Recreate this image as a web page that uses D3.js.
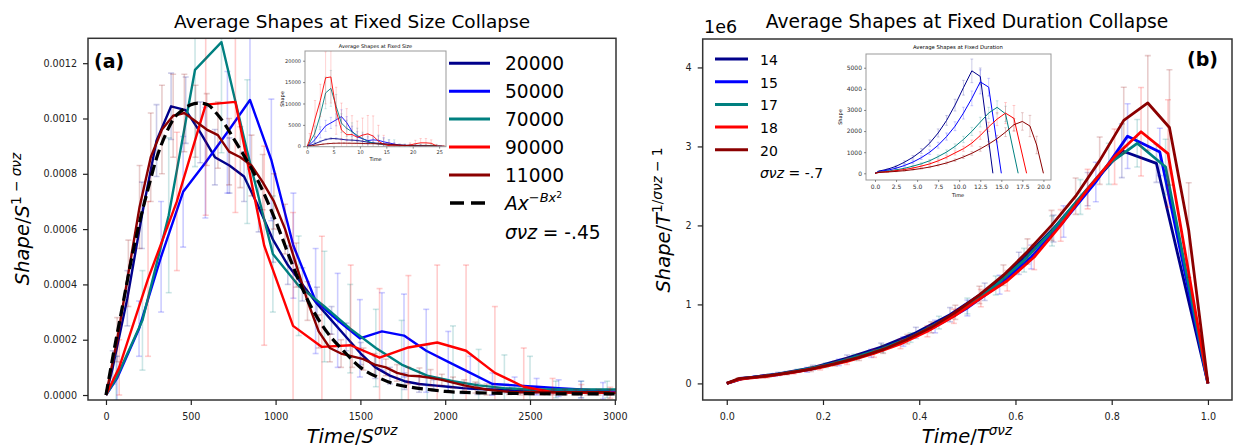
<!DOCTYPE html>
<html>
<head>
<meta charset="utf-8">
<script src="https://cdn.jsdelivr.net/npm/d3@7"></script>
<style>
  body { margin: 0; background: #fff; }
  svg text { font-family: "DejaVu Sans", sans-serif; }
</style>
</head>
<body>
<svg id="chart" width="1235" height="448"></svg>
<script>
// ================= data: fixed-size collapse (panel a) =================
const sizeLabels = ["20000", "50000", "70000", "90000", "11000"];
const seriesColors = ["#00008b", "#0000ff", "#008080", "#ff0000", "#8b0000"];

const s20000X = [0,40,126,212,298,384,470,556,642,728,814,900,986,1072,1158,1244,1330,1416,1502,1588,1674,1760,1846,1932,2018,2104,2190,2276,2362,2448,2534,2620,2706,2792,2878,2964];
const s20000Y = [0,0.0001,0.00035,0.00065,0.00092,0.001044,0.00103,0.00095,0.00086,0.00083,0.00079,0.00068,0.00056,0.00047,0.0004,0.00033,0.00027,0.00021,0.00015,0.0001,0.00007,0.00005,0.00004,0.000035,0.00003,0.000025,0.000022,0.00002,0.000018,0.000016,0.000015,0.000014,0.000013,0.000012,0.000011,0.00001];
const s20000E = [0,0.00006,0.0001,0.00012,0.00013,0.00012,0.00012,0.00011,0.0001,0.0001,0.00009,0.00009,0.00008,0.00007,0.00006,0.00006,0.00005,0.00005,0.00004,0.00004,0.00003,0.00003,0.00003,0.00002,0.00002,0.00002,0.00002,0.00002,0.00001,0.00001,0.00001,0.00001,0.00001,0.00001,0.00001,0.00001];

const s50000X = [0,65,195,325,455,586,716,849,975,1105,1236,1366,1497,1627,1757,1888,2018,2148,2279,2409,2539,2669,2800,2930,3060];
const s50000Y = [0,0.00006,0.00024,0.0005,0.000735,0.00084,0.00095,0.001067,0.00085,0.00054,0.00034,0.00027,0.000205,0.00023,0.000215,0.00016,0.00012,0.00008,0.00004,0.000035,0.00003,0.000025,0.00002,0.000015,0.00001];
const s50000E = [0,0.00008,0.0001,0.0002,0.0002,0.0002,0.00022,0.00025,0.00022,0.00019,0.00019,0.00017,0.00014,0.00014,0.00015,0.00015,0.00011,0.00006,0.00004,0.00003,0.00003,0.00003,0.00003,0.00003,0.00002];

const s70000X = [0,60,215,370,525,681,833,984,1136,1288,1440,1591,1743,1894,2046,2197,2349,2500,2652,2803,2955,3106];
const s70000Y = [0,0.00006,0.00027,0.00065,0.001176,0.001276,0.00088,0.00051,0.000395,0.00032,0.00024,0.00017,0.00011,0.00007,0.00005,0.000035,0.000025,0.00002,0.00002,0.00002,0.00002,0.00002];
const s70000E = [0,0.00008,0.00018,0.00028,0.00035,0.0004,0.00026,0.00021,0.00018,0.0002,0.00016,0.00014,0.00016,0.00011,0.0002,0.00013,0.00012,0.00012,0.00003,0.00003,0.00003,0.00003];

const s90000X = [0,78,248,418,588,763,933,1103,1273,1443,1613,1783,1953,2123,2293,2463,2633,2803,2973,3143];
const s90000Y = [0,0.0001,0.00042,0.0007,0.00105,0.00106,0.00054,0.00025,0.000174,0.00018,0.000135,0.000172,0.00019,0.00016,0.00008,0.00003,0.00001,0.000008,0.000008,0.000008];
const s90000E = [0,0.0001,0.00028,0.00025,0.0004,0.0004,0.00036,0.00041,0.0004,0.00029,0.00025,0.00026,0.00028,0.00031,0.00024,0.00014,0.00005,0.00003,0.00002,0.00002];

const s11000X = [0,66,132,198,264,330,396,462,528,594,660,726,792,858,924,990,1056,1122,1188,1254,1320,1386,1452,1518,1584,1650,1716,1782,1848,1914,1980,2046,2112,2178,2244,2310,2376,2442,2508,2574,2640,2706,2772,2838,2904,2970];
const s11000Y = [0,0.0002,0.00044,0.00068,0.00086,0.00096,0.00101,0.00102,0.00099,0.00096,0.00094,0.00088,0.00086,0.00083,0.00077,0.0007,0.0006,0.00047,0.00034,0.00023,0.00017,0.00015,0.00014,0.00013,0.00011,0.0001,0.00008,0.00007,0.000068,0.000062,0.000055,0.000045,0.000035,0.000027,0.00002,0.000015,0.000012,0.00001,0.00001,0.00001,0.00001,0.00001,0.00001,0.00001,0.00001,0.00001];
const s11000E = [0,0.00008,0.00012,0.00015,0.00016,0.00016,0.00015,0.00014,0.00013,0.00013,0.00012,0.00012,0.00011,0.00011,0.0001,0.0001,0.00009,0.00008,0.00007,0.00006,0.00005,0.00005,0.00004,0.00004,0.00004,0.00003,0.00003,0.00003,0.00003,0.00003,0.00002,0.00002,0.00002,0.00002,0.00002,0.00001,0.00001,0.00001,0.00001,0.00001,0.00001,0.00001,0.00001,0.00001,0.00001,0.00001];

// fitted A x^{-Bx^2} curve
const fitX = [0,50,100,150,200,250,300,350,400,450,500,550,600,650,700,750,800,900,1000,1100,1200,1300,1400,1500,1600,1700,1800,1900,2000,2200,2500,2800,3000];
const fitY = [0,0.00017,0.00033,0.00049,0.00063,0.00075,0.00086,0.00094,0.001,0.00103,0.00105,0.001056,0.00105,0.00102,0.00098,0.00093,0.00088,0.00077,0.00063,0.00047,0.00033,0.00023,0.00016,0.0001,0.000065,0.00004,0.000028,0.00002,0.000013,0.000008,0.000005,0.000004,0.000004];

// raw shapes (inset of panel a)
const raw20000T = [0,0.5,1.5,2.5,3.5,4.5,5.5,6.5,7.5,8.5,9.5,10.5,11.5,12.5,13.5,14.5,15.5,16.5,17.5,18.5,19.5,20.5,21.5,22.5,23.5,24.5,25.5];
const raw20000V = [0,170,600,1120,1580,1800,1770,1630,1480,1430,1360,1170,960,810,690,570,460,360,260,170,120,90,70,60,50,40,35];
const raw20000E = [0,80,150,200,220,220,200,190,180,170,160,150,140,120,100,90,80,70,60,50,40,40,30,30,30,30,30];
const raw50000T = [0,0.5,1.5,2.5,3.5,4.5,5.5,6.5,7.5,8.5,9.5,10.5,11.5,12.5,13.5,14.5,15.5,16.5,17.5,18.5,19.5,20.5,21.5,22.5];
const raw50000V = [0,390,1560,3250,4780,5460,6175,6935,5525,3510,2210,1755,1330,1495,1400,1040,780,520,260,230,195,160,130,100];
const raw50000E = [0,500,700,1300,1300,1300,1400,1600,1400,1200,1200,1100,900,900,1000,1000,700,400,260,200,200,200,200,130];
const raw70000T = [0,0.4,1.4,2.4,3.5,4.5,5.5,6.5,7.5,8.5,9.5,10.5,11.5,12.5,13.5,14.5,15.5,16.5,17.5,18.5,19.5,20.5,21.5,22.5,23.5,24.5];
const raw70000V = [0,640,2860,6900,12470,13530,9330,5400,4190,3390,2540,1800,1170,740,530,370,265,210,210,210,210,210,200,190,180,150];
const raw70000E = [0,850,1900,3000,3700,4200,2800,2200,1900,2100,1700,1500,1700,1200,2100,1400,1300,1300,300,300,300,300,300,300,300,300];
const raw90000T = [0,0.5,1.5,2.5,3.5,4.5,5.5,6.5,7.5,8.5,9.5,10.5,11.5,12.5,13.5,14.5,15.5,16.5,17.5,18.5,19.5,20.5,21.5,22.5,23.5,24.5];
const raw90000V = [0,1500,6400,10700,16000,16200,8300,3800,2700,2750,2100,2600,2900,2400,1200,460,150,120,120,150,300,600,800,800,700,100];
const raw90000E = [0,1500,4300,3800,6100,6100,5500,6300,6100,4400,3800,4000,4300,4700,3700,2100,800,500,300,300,500,800,1000,1000,800,300];
const raw11000T = [0,1,2,3,4,5,6,7,8,9,10,11,12,13,14,15,16,17,18,19,20,21,22,23,24,25,26];
const raw11000V = [0,144,317,490,620,690,727,734,713,691,677,634,619,598,554,504,432,338,245,166,122,108,101,94,79,72,58];
const raw11000E = [0,58,86,108,115,115,108,100,94,94,86,86,79,79,72,72,65,58,50,43,36,36,29,29,29,22,22];

// ================= data: fixed-duration collapse (panel b), values in units of 1e6 =================
const durLabels = ["14", "15", "17", "18", "20"];

const d14X = [0,0.036,0.107,0.179,0.25,0.321,0.393,0.464,0.536,0.607,0.679,0.75,0.821,0.893,1];
const d14Y = [0,0.065,0.12,0.2,0.32,0.46,0.64,0.87,1.16,1.52,1.96,2.46,2.945,2.785,0];
const d14E = [0,0.012,0.02,0.03,0.04,0.05,0.07,0.09,0.11,0.14,0.17,0.21,0.34,0.24,0];
const d15X = [0,0.033,0.1,0.167,0.233,0.3,0.367,0.433,0.5,0.567,0.633,0.7,0.767,0.833,0.9,1];
const d15Y = [0,0.065,0.108,0.172,0.266,0.38,0.53,0.72,0.955,1.25,1.6,2.05,2.55,3.13,2.93,0];
const d15E = [0,0.011,0.018,0.03,0.04,0.05,0.06,0.08,0.1,0.12,0.15,0.2,0.25,0.41,0.3,0];
const d17X = [0,0.029,0.088,0.147,0.206,0.265,0.324,0.382,0.441,0.5,0.559,0.618,0.676,0.735,0.794,0.853,0.912,1];
const d17Y = [0,0.06,0.1,0.16,0.23,0.33,0.44,0.58,0.77,0.98,1.24,1.56,1.93,2.36,2.78,3.04,2.74,0];
const d17E = [0,0.01,0.02,0.02,0.03,0.04,0.05,0.06,0.08,0.1,0.12,0.15,0.19,0.22,0.26,0.3,0.35,0];
const d18X = [0,0.028,0.083,0.139,0.194,0.25,0.306,0.361,0.417,0.472,0.528,0.583,0.639,0.694,0.75,0.806,0.861,0.917,1];
const d18Y = [0,0.055,0.09,0.14,0.2,0.28,0.38,0.5,0.66,0.85,1.08,1.3,1.6,2.0,2.46,2.87,3.186,2.91,0];
const d18E = [0,0.01,0.02,0.02,0.03,0.04,0.05,0.06,0.07,0.09,0.11,0.13,0.16,0.2,0.25,0.35,0.56,0.68,0];
const d20X = [0,0.025,0.075,0.125,0.175,0.225,0.275,0.325,0.375,0.425,0.475,0.525,0.575,0.625,0.675,0.725,0.775,0.825,0.875,0.92,0.96,1];
const d20Y = [0,0.06,0.09,0.13,0.18,0.25,0.33,0.43,0.56,0.71,0.9,1.12,1.37,1.67,2.0,2.37,2.82,3.33,3.55,3.24,1.94,0];
const d20E = [0,0.01,0.02,0.02,0.03,0.03,0.04,0.05,0.06,0.07,0.09,0.11,0.13,0.16,0.19,0.23,0.3,0.42,0.6,0.73,0.6,0];

// raw shapes (inset of panel b)
const raw14T = [0,0.5,1.5,2.5,3.5,4.5,5.5,6.5,7.5,8.5,9.5,10.5,11.5,12.5,14];
const raw14V = [0,107,198,330,527,758,1054,1433,1911,2504,3229,4053,4852,4588,0];
const raw14E = [0,20,35,50,65,85,115,150,190,230,280,350,560,400,0];
const raw15T = [0,0.5,1.5,2.5,3.5,4.5,5.5,6.5,7.5,8.5,9.5,10.5,11.5,12.5,13.5,15];
const raw15V = [0,90,150,240,370,530,740,1000,1330,1740,2230,2850,3550,4330,4080,0];
const raw15E = [0,15,25,40,55,70,85,110,140,170,210,280,350,570,420,0];
const raw17T = [0,0.5,1.5,2.5,3.5,4.5,5.5,6.5,7.5,8.5,9.5,10.5,11.5,12.5,13.5,14.5,15.5,17];
const raw17V = [0,62,103,164,236,339,452,596,791,1007,1274,1603,1984,2425,2857,3124,2816,0];
const raw17E = [0,10,20,20,30,40,50,60,80,100,120,150,190,230,270,310,360,0];
const raw18T = [0,0.5,1.5,2.5,3.5,4.5,5.5,6.5,7.5,8.5,9.5,10.5,11.5,12.5,13.5,14.5,15.5,16.5,18];
const raw18V = [0,49,80,125,179,250,340,447,590,760,966,1163,1431,1789,2200,2567,2850,2603,0];
const raw18E = [0,10,15,20,25,35,45,55,65,80,100,120,145,180,220,310,500,610,0];
const raw20T = [0,0.5,1.5,2.5,3.5,4.5,5.5,6.5,7.5,8.5,9.5,10.5,11.5,12.5,13.5,14.5,15.5,16.5,17.5,18.4,19.2,20];
const raw20V = [0,41,62,90,124,173,228,297,387,491,622,775,947,1155,1383,1639,1950,2303,2455,2240,1340,0];
const raw20E = [0,8,12,15,20,22,28,35,42,50,60,75,90,110,130,160,210,290,415,505,415,0];

// tick values
const ticksAX = [0, 500, 1000, 1500, 2000, 2500, 3000];
const ticksAY = [0, 0.0002, 0.0004, 0.0006, 0.0008, 0.001, 0.0012];
const ticksBX = [0, 0.2, 0.4, 0.6, 0.8, 1.0];
const ticksBY = [0, 1, 2, 3, 4];
const ticksInsetAX = [0, 5, 10, 15, 20, 25];
const ticksInsetAY = [0, 5000, 10000, 15000, 20000];
const ticksInsetBX = [0, 2.5, 5, 7.5, 10, 12.5, 15, 17.5, 20];
const ticksInsetBY = [0, 1000, 2000, 3000, 4000, 5000];

// ================= drawing =================
const svg = d3.select("#chart");
svg.append("rect").attr("width", 1235).attr("height", 448).attr("fill", "#fff");
const defs = svg.append("defs");

function clipRect(id, x0, y0, x1, y1) {
  defs.append("clipPath").attr("id", id).append("rect")
    .attr("x", x0).attr("y", y0).attr("width", x1 - x0).attr("height", y1 - y0);
}

// one series: faint error bars with caps, then the line
function errorLine(g, xs, ys, es, sx, sy, color, o) {
  const pts = xs.map((x, i) => ({ x: x, y: ys[i], e: es[i] }));
  const eb = g.append("g").attr("stroke", color).attr("stroke-opacity", o.barAlpha)
    .attr("stroke-width", o.barW).attr("fill", "none");
  pts.forEach(p => {
    if (!(p.e > 0)) return;
    const cx = sx(p.x), t = sy(p.y + p.e), b = sy(p.y - p.e);
    eb.append("line").attr("x1", cx).attr("x2", cx).attr("y1", t).attr("y2", b);
    eb.append("line").attr("x1", cx - o.cap).attr("x2", cx + o.cap).attr("y1", t).attr("y2", t);
    eb.append("line").attr("x1", cx - o.cap).attr("x2", cx + o.cap).attr("y1", b).attr("y2", b);
  });
  g.append("path").datum(pts).attr("fill", "none").attr("stroke", color)
    .attr("stroke-width", o.lineW).attr("stroke-linejoin", "round")
    .attr("d", d3.line().x(d => sx(d.x)).y(d => sy(d.y)));
}

function axes(sx, sy, xt, yt, xf, yf, o) {
  const yBottom = sy.range()[0], xLeft = sx.range()[0];
  const gx = svg.append("g").attr("transform", `translate(0,${yBottom})`)
    .call(d3.axisBottom(sx).tickValues(xt).tickFormat(xf).tickSize(o.tl).tickPadding(o.padX));
  const gy = svg.append("g").attr("transform", `translate(${xLeft},0)`)
    .call(d3.axisLeft(sy).tickValues(yt).tickFormat(yf).tickSize(o.tl).tickPadding(o.padY));
  [gx, gy].forEach(g => {
    g.select(".domain").remove();
    g.attr("font-family", "DejaVu Sans").attr("font-size", o.fs);
    g.selectAll("line").attr("stroke", o.tc).attr("stroke-width", o.tw);
    g.selectAll("text").attr("fill", o.lc);
  });
}

function frame(x0, y0, x1, y1, color, w) {
  svg.append("rect").attr("x", x0).attr("y", y0).attr("width", x1 - x0).attr("height", y1 - y0)
    .attr("fill", "none").attr("stroke", color).attr("stroke-width", w);
}

// text with mathtext-like superscripts; level 0 = base, 1 = sup, 2 = sup of sup
function mathText(x, y, size, anchor, rot, parts, fill) {
  const t = svg.append("text").attr("x", x).attr("y", y).attr("font-size", size)
    .attr("text-anchor", anchor).attr("fill", fill || "#000");
  if (rot) t.attr("transform", `rotate(${rot},${x},${y})`);
  const off = [0, -0.42, -0.66], scale = [1, 0.7, 0.5];
  let prev = 0;
  parts.forEach(p => {
    const l = p.l || 0;
    const s = t.append("tspan").text(p.t).attr("font-size", size * scale[l]);
    if (l !== prev) s.attr("dy", (off[l] - off[prev]) * size);
    if (p.i) s.attr("font-style", "italic");
    prev = l;
  });
  return t;
}

function plainText(x, y, size, anchor, str, extra) {
  const t = svg.append("text").attr("x", x).attr("y", y).attr("font-size", size)
    .attr("text-anchor", anchor).attr("fill", "#000").text(str);
  if (extra) extra(t);
  return t;
}

// ---------- panel (a) ----------
const ax = d3.scaleLinear().domain([-106, 3007]).range([88, 616]);
const ay = d3.scaleLinear().domain([-0.000018, 0.00129]).range([400, 38.3]);
clipRect("clipA", 88, 38.3, 616, 400);
const gA = svg.append("g").attr("clip-path", "url(#clipA)");
const sizeXs = [s20000X, s50000X, s70000X, s90000X, s11000X];
const sizeYs = [s20000Y, s50000Y, s70000Y, s90000Y, s11000Y];
const sizeEs = [s20000E, s50000E, s70000E, s90000E, s11000E];
const mainOpt = { barAlpha: 0.2, barW: 1.6, cap: 3, lineW: 2.4 };
sizeXs.forEach((xs, k) => errorLine(gA, xs, sizeYs[k], sizeEs[k], ax, ay, seriesColors[k], mainOpt));
gA.append("path").datum(fitX.map((x, i) => [x, fitY[i]]))
  .attr("fill", "none").attr("stroke", "#000").attr("stroke-width", 3.2)
  .attr("stroke-dasharray", "11,5")
  .attr("d", d3.line().x(d => ax(d[0])).y(d => ay(d[1])).curve(d3.curveMonotoneX));
frame(88, 38.3, 616, 400, "#333", 1.5);
const mainAxis = { tl: 5, padX: 8, padY: 6, fs: 9.6, tc: "#222", tw: 1.2, lc: "#222" };
axes(ax, ay, ticksAX, ticksAY, d3.format("d"), d3.format(".4f"), mainAxis);

plainText(352, 28, 18.5, "middle", "Average Shapes at Fixed Size Collapse");
plainText(94, 68, 19, "start", "(a)", t => t.attr("font-weight", "bold").attr("font-family", "Liberation Sans, Arial, sans-serif"));
mathText(29, 219, 19.5, "middle", -90, [{ t: "Shape", i: 1 }, { t: "/" }, { t: "S", i: 1 }, { t: "1 − ", l: 1 }, { t: "σνz", l: 1, i: 1 }]);
mathText(352, 443, 19.5, "middle", 0, [{ t: "Time", i: 1 }, { t: "/" }, { t: "S", i: 1 }, { t: "σνz", l: 1, i: 1 }]);

// legend (a)
const legAY = [63.3, 91.2, 119, 147, 175];
sizeLabels.forEach((lab, k) => {
  svg.append("line").attr("x1", 449).attr("x2", 490).attr("y1", legAY[k]).attr("y2", legAY[k])
    .attr("stroke", seriesColors[k]).attr("stroke-width", 3);
  plainText(505, legAY[k] + 7, 18.6, "start", lab);
});
svg.append("line").attr("x1", 450).attr("x2", 490).attr("y1", 203).attr("y2", 203)
  .attr("stroke", "#000").attr("stroke-width", 3.6).attr("stroke-dasharray", "14,7");
mathText(505, 210, 18.6, "start", 0, [{ t: "Ax", i: 1 }, { t: "−Bx", l: 1, i: 1 }, { t: "2", l: 2 }]);
mathText(505, 239, 18.6, "start", 0, [{ t: "σνz", i: 1 }, { t: " = -.45" }]);

// inset (a): raw shapes against time
const iax = d3.scaleLinear().domain([-0.4, 26.3]).range([305, 446]);
const iay = d3.scaleLinear().domain([-100, 22270]).range([146.7, 51]);
svg.append("rect").attr("x", 305).attr("y", 51).attr("width", 141).attr("height", 95.7).attr("fill", "#fff");
clipRect("clipIA", 305, 51, 446, 146.7);
const gIA = svg.append("g").attr("clip-path", "url(#clipIA)");
const rawTs = [raw20000T, raw50000T, raw70000T, raw90000T, raw11000T];
const rawVs = [raw20000V, raw50000V, raw70000V, raw90000V, raw11000V];
const rawEs = [raw20000E, raw50000E, raw70000E, raw90000E, raw11000E];
const insetOpt = { barAlpha: 0.2, barW: 0.9, cap: 1.2, lineW: 0.9 };
rawTs.forEach((ts, k) => errorLine(gIA, ts, rawVs[k], rawEs[k], iax, iay, seriesColors[k], insetOpt));
frame(305, 51, 446, 146.7, "#999", 1);
const insetAxisA = { tl: 2, padX: 2, padY: 2, fs: 5, tc: "#444", tw: 0.6, lc: "#333" };
axes(iax, iay, ticksInsetAX, ticksInsetAY, d3.format("d"), d3.format("d"), insetAxisA);
plainText(375.5, 47.5, 5, "middle", "Average Shapes at Fixed Size");
plainText(375.5, 161, 5, "middle", "Time");
plainText(284, 99, 5, "middle", "Shape", t => t.attr("transform", "rotate(-90,284,99)"));

// ---------- panel (b) ----------
const bx = d3.scaleLinear().domain([-0.05, 1.05]).range([702.7, 1232]);
const by = d3.scaleLinear().domain([-0.21, 4.36]).range([400, 39]);
clipRect("clipB", 702.7, 39, 1232, 400);
const gB = svg.append("g").attr("clip-path", "url(#clipB)");
const durXs = [d14X, d15X, d17X, d18X, d20X];
const durYs = [d14Y, d15Y, d17Y, d18Y, d20Y];
const durEs = [d14E, d15E, d17E, d18E, d20E];
const mainOptB = { barAlpha: 0.2, barW: 1.6, cap: 3, lineW: 2.8 };
durXs.forEach((xs, k) => errorLine(gB, xs, durYs[k], durEs[k], bx, by, seriesColors[k], mainOptB));
frame(702.7, 39, 1232, 400, "#333", 1.5);
axes(bx, by, ticksBX, ticksBY, d3.format(".1f"), d3.format("d"), mainAxis);

plainText(967, 28, 18.7, "middle", "Average Shapes at Fixed Duration Collapse");
plainText(704, 33, 17.5, "start", "1e6");
plainText(1187, 66, 19, "start", "(b)", t => t.attr("font-weight", "bold").attr("font-family", "Liberation Sans, Arial, sans-serif"));
mathText(670, 220, 19.5, "middle", -90, [{ t: "Shape", i: 1 }, { t: "/" }, { t: "T", i: 1 }, { t: "1/", l: 1 }, { t: "σνz", l: 1, i: 1 }, { t: " − 1", l: 1 }]);
mathText(967, 443, 19.5, "middle", 0, [{ t: "Time", i: 1 }, { t: "/" }, { t: "T", i: 1 }, { t: "σνz", l: 1, i: 1 }]);

// legend (b)
const legBY = [59, 81.7, 104.4, 127.1, 149.8];
durLabels.forEach((lab, k) => {
  svg.append("line").attr("x1", 715).attr("x2", 748).attr("y1", legBY[k]).attr("y2", legBY[k])
    .attr("stroke", seriesColors[k]).attr("stroke-width", 3);
  plainText(760, legBY[k] + 6, 14, "start", lab);
});
mathText(760, 178, 14, "start", 0, [{ t: "σνz", i: 1 }, { t: " = -.7" }]);

// inset (b): raw shapes against time
const ibx = d3.scaleLinear().domain([-1.07, 20.9]).range([866, 1051]);
const iby = d3.scaleLinear().domain([-317, 5650]).range([180, 54]);
svg.append("rect").attr("x", 866).attr("y", 54).attr("width", 185).attr("height", 126).attr("fill", "#fff");
clipRect("clipIB", 866, 54, 1051, 180);
const gIB = svg.append("g").attr("clip-path", "url(#clipIB)");
const rawDTs = [raw14T, raw15T, raw17T, raw18T, raw20T];
const rawDVs = [raw14V, raw15V, raw17V, raw18V, raw20V];
const rawDEs = [raw14E, raw15E, raw17E, raw18E, raw20E];
const insetOptB = { barAlpha: 0.2, barW: 1, cap: 1.4, lineW: 1 };
rawDTs.forEach((ts, k) => errorLine(gIB, ts, rawDVs[k], rawDEs[k], ibx, iby, seriesColors[k], insetOptB));
frame(866, 54, 1051, 180, "#999", 1);
const insetAxisB = { tl: 2, padX: 2.5, padY: 2, fs: 6, tc: "#444", tw: 0.6, lc: "#333" };
axes(ibx, iby, ticksInsetBX, ticksInsetBY, d3.format(".1f"), d3.format("d"), insetAxisB);
plainText(958, 49, 5.3, "middle", "Average Shapes at Fixed Duration");
plainText(958, 197, 5, "middle", "Time");
plainText(842, 117, 5, "middle", "Shape", t => t.attr("transform", "rotate(-90,842,117)"));
</script>
</body>
</html>
